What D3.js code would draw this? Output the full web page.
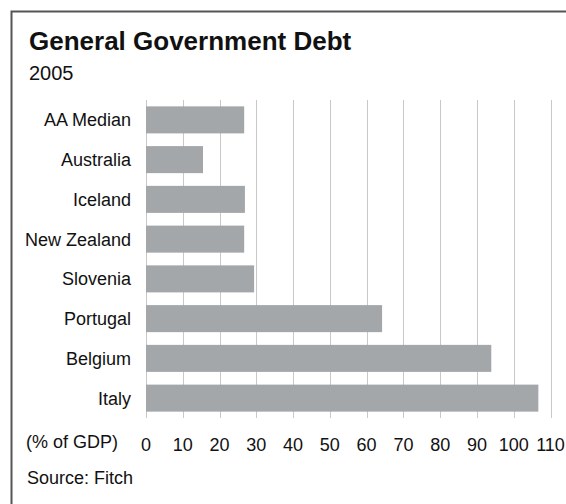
<!DOCTYPE html>
<html>
<head>
<meta charset="utf-8">
<script src="https://cdn.jsdelivr.net/npm/d3@7"></script>
<style>
  body { margin: 0; background: #fff; }
  svg text { font-family: "Liberation Sans", Arial, sans-serif; fill: #111; }
</style>
</head>
<body>
<svg id="chart" width="566" height="504"></svg>
<script>
var countries = ["AA Median", "Australia", "Iceland", "New Zealand", "Slovenia", "Portugal", "Belgium", "Italy"];
var debt = [26.7, 15.5, 26.9, 26.7, 29.4, 64.2, 93.9, 106.7];
var ticks = [0, 10, 20, 30, 40, 50, 60, 70, 80, 90, 100, 110];

var svg = d3.select("#chart");

// frame (only top + left edges fall inside the picture)
svg.append("rect")
  .attr("x", 11.5).attr("y", 11.5)
  .attr("width", 600).attr("height", 600)
  .style("fill", "none")
  .style("stroke", "#555")
  .style("stroke-width", 2);

var x = d3.scaleLinear().domain([0, 110]).range([146, 550.5]);
var y = d3.scaleBand().domain(countries).range([100, 418])
  .paddingInner(0.32).paddingOuter(0.16);

// vertical gridlines
svg.append("g").selectAll("line")
  .data(ticks)
  .join("line")
  .attr("x1", d => Math.round(x(d)) + 0.5)
  .attr("x2", d => Math.round(x(d)) + 0.5)
  .attr("y1", 100).attr("y2", 418)
  .style("stroke", "#c8c8c8")
  .style("stroke-width", 1);

// bars
svg.append("g").selectAll("rect")
  .data(countries)
  .join("rect")
  .attr("x", x(0))
  .attr("y", d => y(d))
  .attr("width", (d, i) => x(debt[i]) - x(0))
  .attr("height", y.bandwidth())
  .style("fill", "#a4a7aa");

// category labels
svg.append("g").selectAll("text")
  .data(countries)
  .join("text")
  .attr("x", 131)
  .attr("y", d => y(d) + y.bandwidth() / 2 + 6.5)
  .attr("text-anchor", "end")
  .style("font-size", "18px")
  .text(d => d);

// x axis labels
svg.append("g").selectAll("text")
  .data(ticks)
  .join("text")
  .attr("x", d => x(d))
  .attr("y", 450.5)
  .attr("text-anchor", "middle")
  .style("font-size", "18px")
  .text(d => d);

svg.append("text")
  .attr("x", 26).attr("y", 448)
  .style("font-size", "18px")
  .text("(% of GDP)");

svg.append("text")
  .attr("x", 27).attr("y", 483.5)
  .style("font-size", "18px")
  .text("Source: Fitch");

// titles
svg.append("text")
  .attr("x", 29).attr("y", 50)
  .style("font-size", "26px")
  .style("font-weight", "bold")
  .text("General Government Debt");

svg.append("text")
  .attr("x", 29).attr("y", 80)
  .style("font-size", "20px")
  .text("2005");
</script>
</body>
</html>
